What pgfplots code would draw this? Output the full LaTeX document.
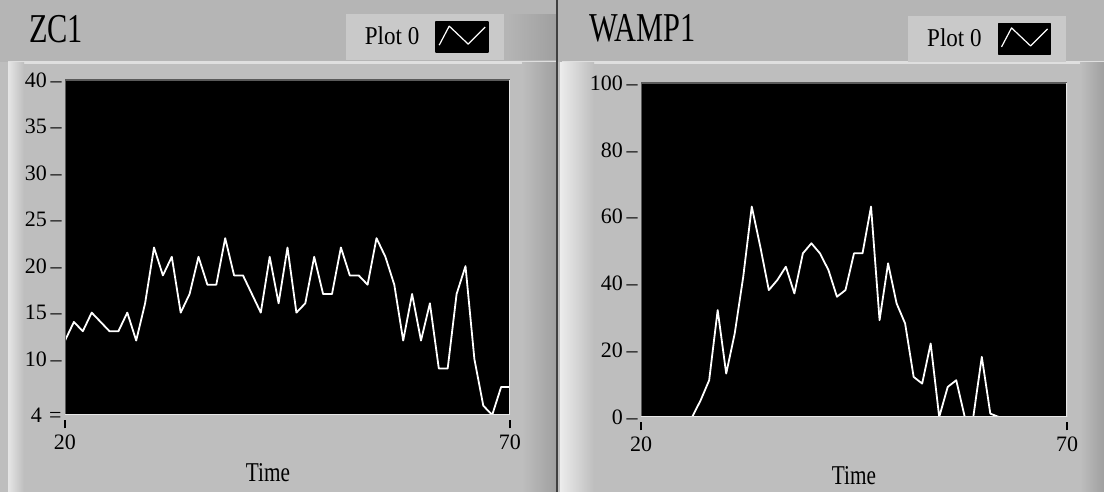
\documentclass[border=0pt]{standalone}
\usepackage{fontspec}
\setmainfont{Liberation Serif}
\newfontfamily\titlefont[FakeStretch=0.74]{Liberation Serif}
\newfontfamily\labfont[FakeStretch=0.78]{Liberation Serif}
\newfontfamily\legfont[FakeStretch=0.9]{Liberation Serif}
\usepackage{pgfplots}
\pgfplotsset{compat=1.18}
\definecolor{topgray}{HTML}{B5B5B5}
\definecolor{panelgray}{HTML}{BEBEBE}
\definecolor{leggray}{HTML}{C9C9C9}
\definecolor{framedark}{HTML}{5A5A5A}
\definecolor{framelight}{HTML}{E8E8E8}

\pgfplotstableread{
t v
20 12
21 14
22 13
23 15
24 14
25 13
26 13
27 15
28 12
29 16
30 22
31 19
32 21
33 15
34 17
35 21
36 18
37 18
38 23
39 19
40 19
41 17
42 15
43 21
44 16
45 22
46 15
47 16
48 21
49 17
50 17
51 22
52 19
53 19
54 18
55 23
56 21
57 18
58 12
59 17
60 12
61 16
62 9
63 9
64 17
65 20
66 10
67 5
68 4
69 7
70 7
}\zcdata

\pgfplotstableread{
t v
20 0
21 0
22 0
23 0
24 0
25 0
26 0
27 5
28 11
29 32
30 13
31 25
32 42
33 63
34 51
35 38
36 41
37 45
38 37
39 49
40 52
41 49
42 44
43 36
44 38
45 49
46 49
47 63
48 29
49 46
50 34
51 28
52 12
53 10
54 22
55 0
56 9
57 11
58 0
59 0
60 18
61 1
62 0
63 0
64 0
65 0
66 0
67 0
68 0
69 0
70 0
}\wampdata

\pgfplotsset{
  every axis title shift=0pt,
  lvaxis/.style={
    scale only axis, anchor=south west,
    xmin=20, xmax=70, xtick={20,70},
    xticklabels={{\shortstack{\rule{0.6pt}{4pt}\\20}},{\shortstack{\rule{0.6pt}{4pt}\\70}}},
    axis background/.style={fill=black},
    axis line style={draw=none},
    major tick length=0pt, tick style={draw=none},
    yticklabel style={font=\fontsize{11}{12}\selectfont, inner sep=1.5pt},
    xticklabel style={font=\fontsize{11}{12}\selectfont, anchor=north, inner sep=0.5pt, yshift=-2pt},
    xlabel={\labfont Time},
    xlabel style={font=\fontsize{13.6}{15}\selectfont, anchor=base},
    title style={font=\fontsize{20.5}{24}\selectfont, anchor=base west},
    legend plot pos=right,
    legend image code/.code={
      \fill[black] (0pt,-7.5pt) rectangle (26pt,7.5pt);
      \draw[white,line width=0.6pt] (1.5pt,-4pt) -- (6.5pt,5.5pt) -- (16pt,-3.5pt) -- (24.5pt,5pt);
    },
    legend style={fill=leggray, draw=none, anchor=center,
      font=\legfont\fontsize{12.8}{14}\selectfont,
      column sep=6pt,
      inner xsep=7.5pt, inner ysep=3.5pt},
  },
}

\begin{document}
\begin{tikzpicture}[x=0.5pt,y=0.5pt]
% backgrounds (pixel units, y up)
\fill[panelgray] (0,0) rectangle (1104,492);
\fill[topgray] (0,430) rectangle (1104,492);
\fill[gray!25] (8,428) rectangle (556,431);
\fill[gray!25] (562,428) rectangle (1104,431);
\shade[left color=gray!20, right color=panelgray] (8,0) rectangle (24,429);
\shade[left color=panelgray, right color=gray!75] (522,0) rectangle (556,429);
\shade[left color=topgray, right color=gray!75] (507,432) rectangle (556,477);
\fill[gray!50!black] (556,0) rectangle (558,492);
\shade[left color=gray!15, right color=panelgray] (560,0) rectangle (594,429);
\shade[left color=panelgray, right color=gray!75] (1080,0) rectangle (1104,429);

% ---- left panel: ZC1
\begin{axis}[lvaxis,
  at={(32.5pt,38.5pt)}, width=222.5pt, height=167.5pt,
  ymin=4, ymax=40, ytick={4,10,15,20,25,30,35,40},
  yticklabels={{4\,\,=},{10\,--},{15\,--},{20\,--},{25\,--},{30\,--},{35\,--},{40\,--}},
  title={\titlefont ZC1},
  title style={at={(axis description cs:-0.0966,1.113)}},
  xlabel style={at={(axis description cs:0.456,-0.2)}},
  legend style={at={(axis description cs:0.809,1.128)}},
]
\addplot[white, line width=0.9pt, line join=round] table[x=t,y=v] {\zcdata};
\addlegendentry{Plot 0}
\draw[framedark, line width=0.8pt] (rel axis cs:0,0) -- (rel axis cs:0,1) -- (rel axis cs:1,1);
\draw[framelight, line width=0.8pt] (rel axis cs:0,0) -- (rel axis cs:1,0) -- (rel axis cs:1,1);
\end{axis}

% ---- right panel: WAMP1
\begin{axis}[lvaxis,
  at={(320.5pt,37.5pt)}, width=213pt, height=167pt,
  ymin=0, ymax=100, ytick={0,20,40,60,80,100},
  yticklabels={{0\,--},{20\,--},{40\,--},{60\,--},{80\,--},{100\,--}},
  title={\titlefont WAMP1},
  title style={at={(axis description cs:-0.1385,1.1228)}},
  xlabel style={at={(axis description cs:0.5,-0.2036)}},
  legend style={at={(axis description cs:0.813,1.132)}},
]
\addplot[white, line width=0.9pt, line join=round] table[x=t,y=v] {\wampdata};
\addlegendentry{Plot 0}
\draw[framedark, line width=0.8pt] (rel axis cs:0,0) -- (rel axis cs:0,1) -- (rel axis cs:1,1);
\draw[framelight, line width=0.8pt] (rel axis cs:0,0) -- (rel axis cs:1,0) -- (rel axis cs:1,1);
\end{axis}
\pgfresetboundingbox
\path[use as bounding box] (0,0) rectangle (1104,492);
\end{tikzpicture}
\end{document}
